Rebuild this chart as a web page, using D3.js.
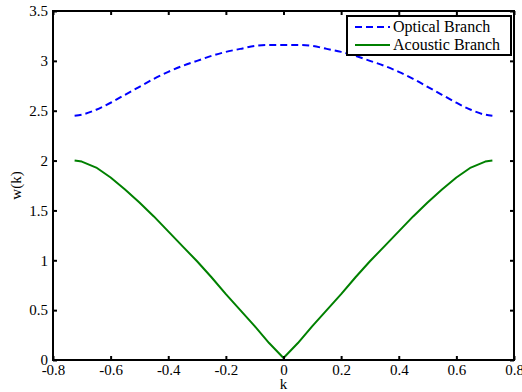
<!DOCTYPE html>
<html>
<head>
<meta charset="utf-8">
<script src="https://cdn.jsdelivr.net/npm/d3@7"></script>
<style>
  body { margin: 0; background: #fff; }
  text { font-family: "Liberation Serif", "DejaVu Serif", serif; fill: #000; }
</style>
</head>
<body>
<div id="chart"></div>
<script>
// values
var kValues = [-0.725, -0.70, -0.65, -0.60, -0.55, -0.50, -0.45, -0.40, -0.35, -0.30, -0.25, -0.20, -0.15, -0.10, -0.05, 0,
               0.05, 0.10, 0.15, 0.20, 0.25, 0.30, 0.35, 0.40, 0.45, 0.50, 0.55, 0.60, 0.65, 0.70, 0.725];
var optical = [2.45, 2.46, 2.51, 2.58, 2.66, 2.74, 2.82, 2.89, 2.95, 3.00, 3.05, 3.09, 3.12, 3.15, 3.16, 3.16,
               3.16, 3.15, 3.12, 3.09, 3.05, 3.00, 2.95, 2.89, 2.82, 2.74, 2.66, 2.58, 2.51, 2.46, 2.45];
var acoustic = [2.00, 1.99, 1.93, 1.83, 1.71, 1.58, 1.44, 1.29, 1.14, 0.99, 0.83, 0.66, 0.50, 0.34, 0.17, 0.02,
                0.17, 0.34, 0.50, 0.66, 0.83, 0.99, 1.14, 1.29, 1.44, 1.58, 1.71, 1.83, 1.93, 1.99, 2.00];
var xTicks = [-0.8, -0.6, -0.4, -0.2, 0, 0.2, 0.4, 0.6, 0.8];
var yTicks = [0, 0.5, 1, 1.5, 2, 2.5, 3, 3.5];
var legendLabels = ["Optical Branch", "Acoustic Branch"];

var w = 522, h = 392;
var pL = 53, pR = 514, pT = 11, pB = 360;
var fs = 15;

var svg = d3.select("#chart").append("svg")
    .attr("width", w)
    .attr("height", h);

var x = d3.scaleLinear().domain([-0.8, 0.8]).range([pL, pR]);
var y = d3.scaleLinear().domain([0, 3.5]).range([pB, pT]);

function fmt(d) { return d === 0 ? "0" : String(d); }

// curves
var smooth = d3.line()
    .curve(d3.curveMonotoneX)
    .x(function (d) { return x(d[0]); })
    .y(function (d) { return y(d[1]); });
var straight = d3.line()
    .x(function (d) { return x(d[0]); })
    .y(function (d) { return y(d[1]); });

svg.append("path")
    .datum(d3.zip(kValues, optical))
    .attr("d", smooth)
    .attr("fill", "none")
    .attr("stroke", "#0000ff")
    .attr("stroke-width", 2)
    .attr("stroke-dasharray", "7,4");

svg.append("path")
    .datum(d3.zip(kValues, acoustic))
    .attr("d", straight)
    .attr("fill", "none")
    .attr("stroke", "#008000")
    .attr("stroke-width", 2)
    .attr("stroke-linejoin", "round");

// axes (ticks inside, mirrored on top/right)
var tl = 4;
var xb = svg.append("g").attr("transform", "translate(0," + pB + ")")
    .call(d3.axisBottom(x).tickValues(xTicks).tickFormat(fmt).tickSizeInner(-tl).tickSizeOuter(0).tickPadding(4));
var xt = svg.append("g").attr("transform", "translate(0," + pT + ")")
    .call(d3.axisTop(x).tickValues(xTicks).tickFormat("").tickSizeInner(-tl).tickSizeOuter(0));
var yl = svg.append("g").attr("transform", "translate(" + pL + ",0)")
    .call(d3.axisLeft(y).tickValues(yTicks).tickFormat(fmt).tickSizeInner(-tl).tickSizeOuter(0).tickPadding(5));
var yr = svg.append("g").attr("transform", "translate(" + pR + ",0)")
    .call(d3.axisRight(y).tickValues(yTicks).tickFormat("").tickSizeInner(-tl).tickSizeOuter(0));

[xb, xt, yl, yr].forEach(function (g) {
    g.select(".domain").remove();
    g.selectAll(".tick line").attr("stroke", "#000").attr("stroke-width", 2);
    g.selectAll("text").attr("font-size", fs).attr("font-family", "Liberation Serif, serif");
});

svg.append("rect")
    .attr("x", pL).attr("y", pT)
    .attr("width", pR - pL).attr("height", pB - pT)
    .attr("fill", "none").attr("stroke", "#000").attr("stroke-width", 2);

// axis titles
svg.append("text")
    .attr("x", x(0)).attr("y", 389)
    .attr("text-anchor", "middle")
    .attr("font-size", fs)
    .text("k");

svg.append("text")
    .attr("transform", "translate(21," + ((pT + pB) / 2) + ") rotate(-90)")
    .attr("text-anchor", "middle")
    .attr("font-size", fs)
    .text("w(k)");

// legend
var lg = svg.append("g");
lg.append("rect")
    .attr("x", 347).attr("y", 16)
    .attr("width", 164).attr("height", 39)
    .attr("fill", "#fff").attr("stroke", "#000").attr("stroke-width", 2);

var items = lg.selectAll(".item").data(legendLabels).enter().append("g")
    .attr("transform", function (d, i) { return "translate(0," + (27 + i * 18) + ")"; });
items.append("line")
    .attr("x1", 355).attr("x2", 390)
    .attr("stroke", function (d, i) { return i === 0 ? "#0000ff" : "#008000"; })
    .attr("stroke-width", 2)
    .attr("stroke-dasharray", function (d, i) { return i === 0 ? "7,4" : null; });
items.append("text")
    .attr("x", 393).attr("y", 5)
    .attr("font-size", 16)
    .text(function (d) { return d; });
</script>
</body>
</html>
